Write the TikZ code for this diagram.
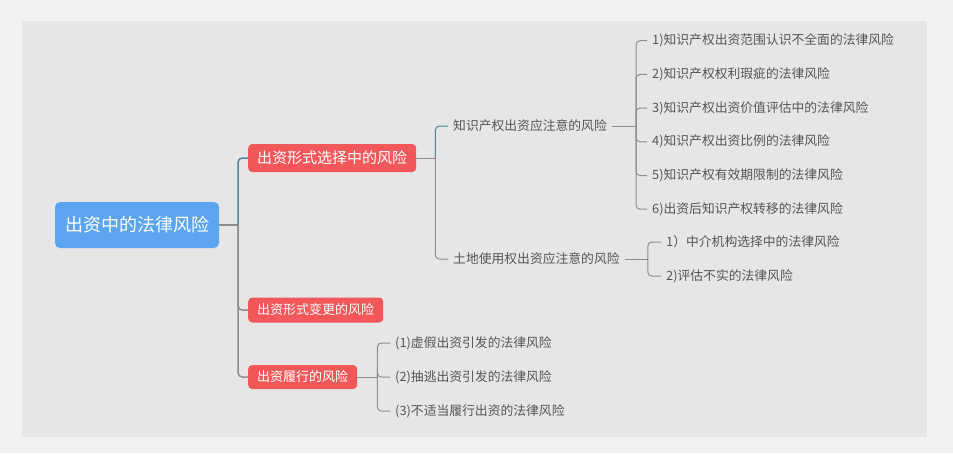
\documentclass[tikz,border=0pt]{standalone}
\usepackage{fontspec}
\newfontfamily\cjk{Noto Sans CJK SC}
\usetikzlibrary{calc}
\definecolor{pagebg}{HTML}{F2F2F2}
\definecolor{panelbg}{HTML}{E6E6E6}
\definecolor{rootblue}{HTML}{5BA4F0}
\definecolor{topicred}{HTML}{F2585A}
\definecolor{leaftext}{HTML}{555555}
\definecolor{linkgray}{HTML}{8C8C8C}
\definecolor{linkblue}{HTML}{52819F}

\begin{document}
\begin{tikzpicture}[x=1pt,y=-1pt,
  root/.style={fill=rootblue,text=white,rounded corners=5pt,minimum width=164pt,minimum height=46pt,inner sep=0pt,font=\cjk\fontsize{18pt}{20pt}\selectfont},
  topic/.style={anchor=west,fill=topicred,text=white,rounded corners=4pt,inner xsep=9pt,inner ysep=0pt,minimum height=25pt,font=\cjk\fontsize{13pt}{15pt}\selectfont},
  leaf/.style={anchor=west,inner xsep=5pt,inner ysep=0pt,text=leaftext,font=\cjk\fontsize{12.8pt}{15pt}\selectfont},
  link/.style={draw=linkgray,line width=1pt,rounded corners=4pt},
  hot/.style={draw=linkblue}]
\fill[pagebg] (0,0) rectangle (953,453);
\fill[panelbg] (22,21) rectangle (927,437);
\useasboundingbox (0,0) rectangle (953,453);

\node[root] (root) at (137,225) {出资中的法律风险};
\node[topic,minimum height=28pt,font=\cjk\fontsize{15pt}{17pt}\selectfont] (choose) at (248,158) {出资形式选择中的风险};
\node[topic] (change) at (248,310) {出资形式变更的风险};
\node[topic,minimum height=24pt] (perform) at (248,377) {出资履行的风险};

\node[leaf] (ip) at (448,126) {知识产权出资应注意的风险};
\node[leaf] (land) at (448,259) {土地使用权出资应注意的风险};

\foreach \i/\t in {1/1)知识产权出资范围认识不全面的法律风险,2/2)知识产权权利瑕疵的法律风险,3/3)知识产权出资价值评估中的法律风险,4/4)知识产权出资比例的法律风险,5/5)知识产权有效期限制的法律风险,6/6)出资后知识产权转移的法律风险}
  \node[leaf] (ip\i) at (647,{40.7+(\i-1)*33.7}) {\t};
\node[leaf] (land1) at (661,242) {1）中介机构选择中的法律风险};
\node[leaf] (land2) at (661,276) {2)评估不实的法律风险};
\node[leaf] (perform1) at (390,343) {(1)虚假出资引发的法律风险};
\node[leaf] (perform2) at (390,377) {(2)抽逃出资引发的法律风险};
\node[leaf] (perform3) at (390,411) {(3)不适当履行出资的法律风险};

\coordinate (rootfork) at ($(root.east)+(19,0)$);
\coordinate (choosefork) at ($(choose.east)+(19,0)$);
\coordinate (ipfork) at ($(ip.east)+(24,0)$);
\coordinate (landfork) at ($(land.east)+(23,0)$);
\coordinate (performfork) at ($(perform.east)+(20,0)$);

\draw[link,line width=1.5pt] (root.east) -- (rootfork);
\draw[link,hot,line width=1.5pt] (rootfork) |- (choose.west);
\draw[link,line width=1.5pt] (rootfork) |- (change.west);
\draw[link,line width=1.5pt] (rootfork) |- (perform.west);

\draw[link] (choose.east) -- (choosefork);
\draw[link,hot] (choosefork) |- (ip.west);
\draw[link] (choosefork) |- (land.west);

\draw[link] (ip.east) -- (ipfork);
\foreach \i in {1,...,6}
  \draw[link] (ipfork) |- (ip\i.west);

\draw[link] (land.east) -- (landfork);
\foreach \i in {1,2}
  \draw[link] (landfork) |- (land\i.west);

\draw[link] (perform.east) -- (performfork);
\foreach \i in {1,2,3}
  \draw[link] (performfork) |- (perform\i.west);
\end{tikzpicture}
\end{document}
